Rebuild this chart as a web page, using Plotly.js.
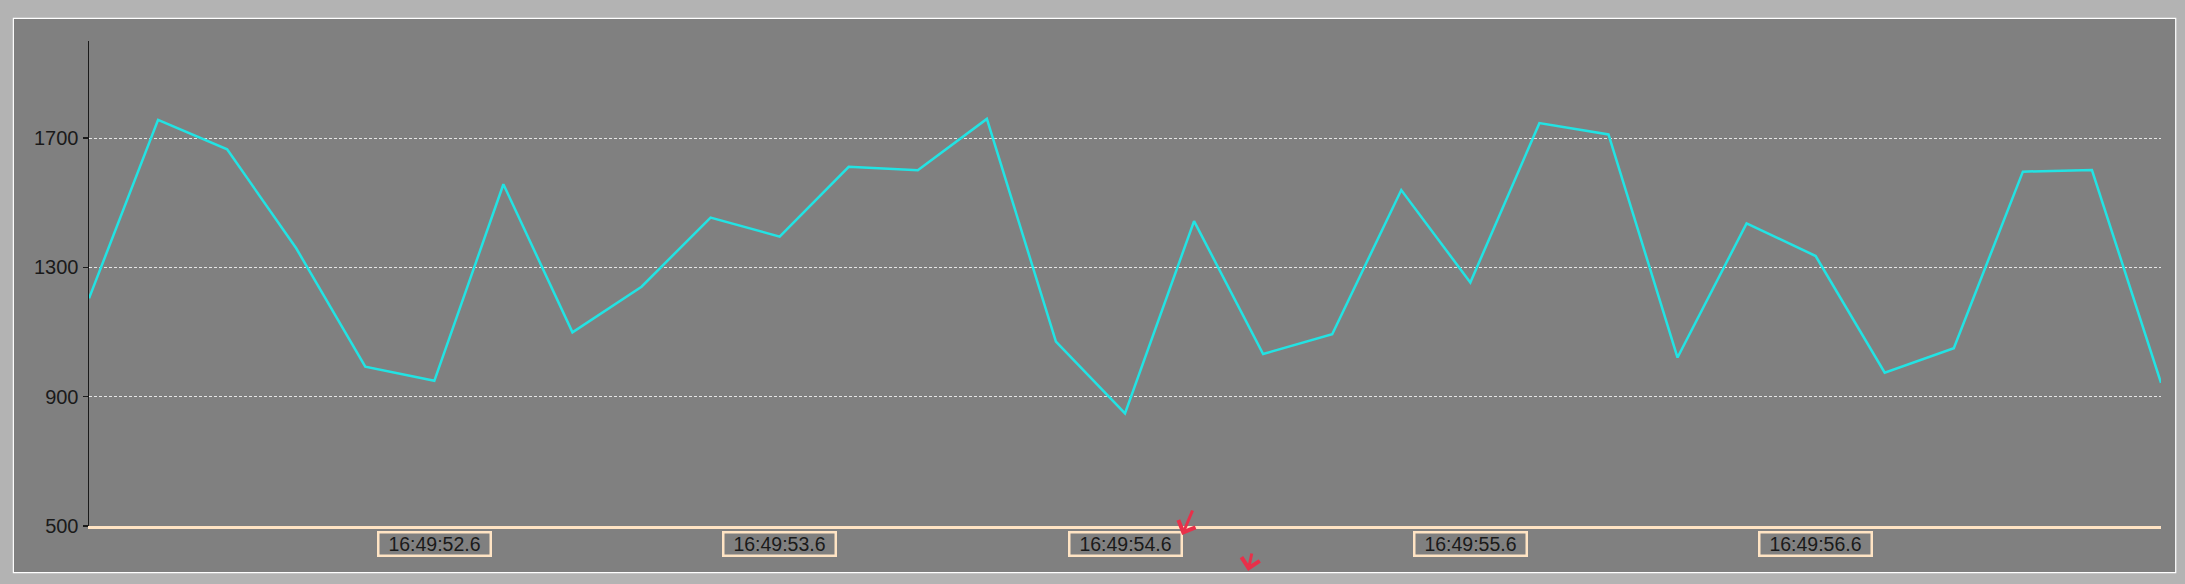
<!DOCTYPE html>
<html>
<head>
<meta charset="utf-8">
<script src="https://cdn.plot.ly/plotly-3.0.1.min.js"></script>
<style>
  html, body { margin: 0; padding: 0; background: #b3b3b3; }
  #chart { width: 2185px; height: 584px; }
</style>
</head>
<body>
<div id="chart"></div>
<script>
// Sample times (categories), one every 0.2 s
const times = [
  '16:49:51.6','16:49:51.8','16:49:52.0','16:49:52.2','16:49:52.4',
  '16:49:52.6','16:49:52.8','16:49:53.0','16:49:53.2','16:49:53.4',
  '16:49:53.6','16:49:53.8','16:49:54.0','16:49:54.2','16:49:54.4',
  '16:49:54.6','16:49:54.8','16:49:55.0','16:49:55.2','16:49:55.4',
  '16:49:55.6','16:49:55.8','16:49:56.0','16:49:56.2','16:49:56.4',
  '16:49:56.6','16:49:56.8','16:49:57.0','16:49:57.2','16:49:57.4',
  '16:49:57.6'
];
// Series values
const values = [
  1204, 1756, 1665, 1359, 993,
  949, 1557, 1099, 1240, 1454,
  1395, 1611, 1600, 1759, 1070,
  848, 1443, 1032, 1093, 1539,
  1253, 1746, 1711, 1021, 1436,
  1335, 974, 1050, 1596, 1601,
  943
];
// Tick labels
const xTickLabels = ['16:49:52.6','16:49:53.6','16:49:54.6','16:49:55.6','16:49:56.6'];
const yTickVals = [500, 900, 1300, 1700];

const trace = {
  type: 'scatter',
  mode: 'lines',
  x: times,
  y: values,
  line: { color: '#22e3e3', width: 2.5 },
  hoverinfo: 'x+y'
};

const labelAnnotations = xTickLabels.map(t => ({
  x: t, xref: 'x',
  y: -0.0375, yref: 'paper',
  xanchor: 'center', yanchor: 'middle',
  text: t,
  showarrow: false,
  font: { family: 'Liberation Sans, Arial, sans-serif', size: 19.5, color: '#1a1a1a' },
  bordercolor: '#ffe4c4',
  borderwidth: 2.5,
  borderpad: 0,
  width: 110,
  height: 21,
  bgcolor: 'rgba(0,0,0,0)'
}));

const arrowAnnotations = [
  { x: 0.5276, y: -0.0186, xref: 'paper', yref: 'paper', ax: 11, ay: -26,
    text: '', showarrow: true, arrowhead: 4, arrowsize: 1.2, arrowwidth: 3, arrowcolor: '#e8304a' },
  { x: 0.5594, y: -0.0927, xref: 'paper', yref: 'paper', ax: 4, ay: -19,
    text: '', showarrow: true, arrowhead: 4, arrowsize: 1.2, arrowwidth: 3, arrowcolor: '#e8304a' }
];

const layout = {
  width: 2185,
  height: 584,
  margin: { l: 89, r: 24, t: 41, b: 58, pad: 0 },
  paper_bgcolor: '#b3b3b3',
  plot_bgcolor: 'rgba(0,0,0,0)',
  showlegend: false,
  font: { family: 'Liberation Sans, Arial, sans-serif', color: '#1a1a1a' },
  xaxis: {
    type: 'category',
    range: [0, times.length - 1],
    showline: true,
    linecolor: '#ffe4c4',
    linewidth: 3,
    showgrid: false,
    zeroline: false,
    ticks: '',
    showticklabels: false,
    fixedrange: true
  },
  yaxis: {
    range: [500, 2000],
    tickvals: yTickVals,
    ticktext: yTickVals.map(String),
    showline: true,
    linecolor: '#1a1a1a',
    linewidth: 1.5,
    ticks: 'outside',
    ticklen: 5,
    tickwidth: 1.5,
    tickcolor: '#1a1a1a',
    showgrid: true,
    gridcolor: '#e6e6e6',
    gridwidth: 1,
    griddash: '3px,2px',
    zeroline: false,
    tickfont: { family: 'Liberation Sans, Arial, sans-serif', size: 20, color: '#1a1a1a' },
    fixedrange: true
  },
  shapes: [
    { type: 'rect', xref: 'paper', yref: 'paper', layer: 'below',
      x0: -0.0365, x1: 1.0071, y0: -0.0962, y1: 1.0468,
      fillcolor: '#808080', line: { color: '#ffffff', width: 1.2 } }
  ],
  annotations: labelAnnotations.concat(arrowAnnotations)
};

Plotly.newPlot('chart', [trace], layout, { displayModeBar: false, staticPlot: true });
</script>
</body>
</html>
